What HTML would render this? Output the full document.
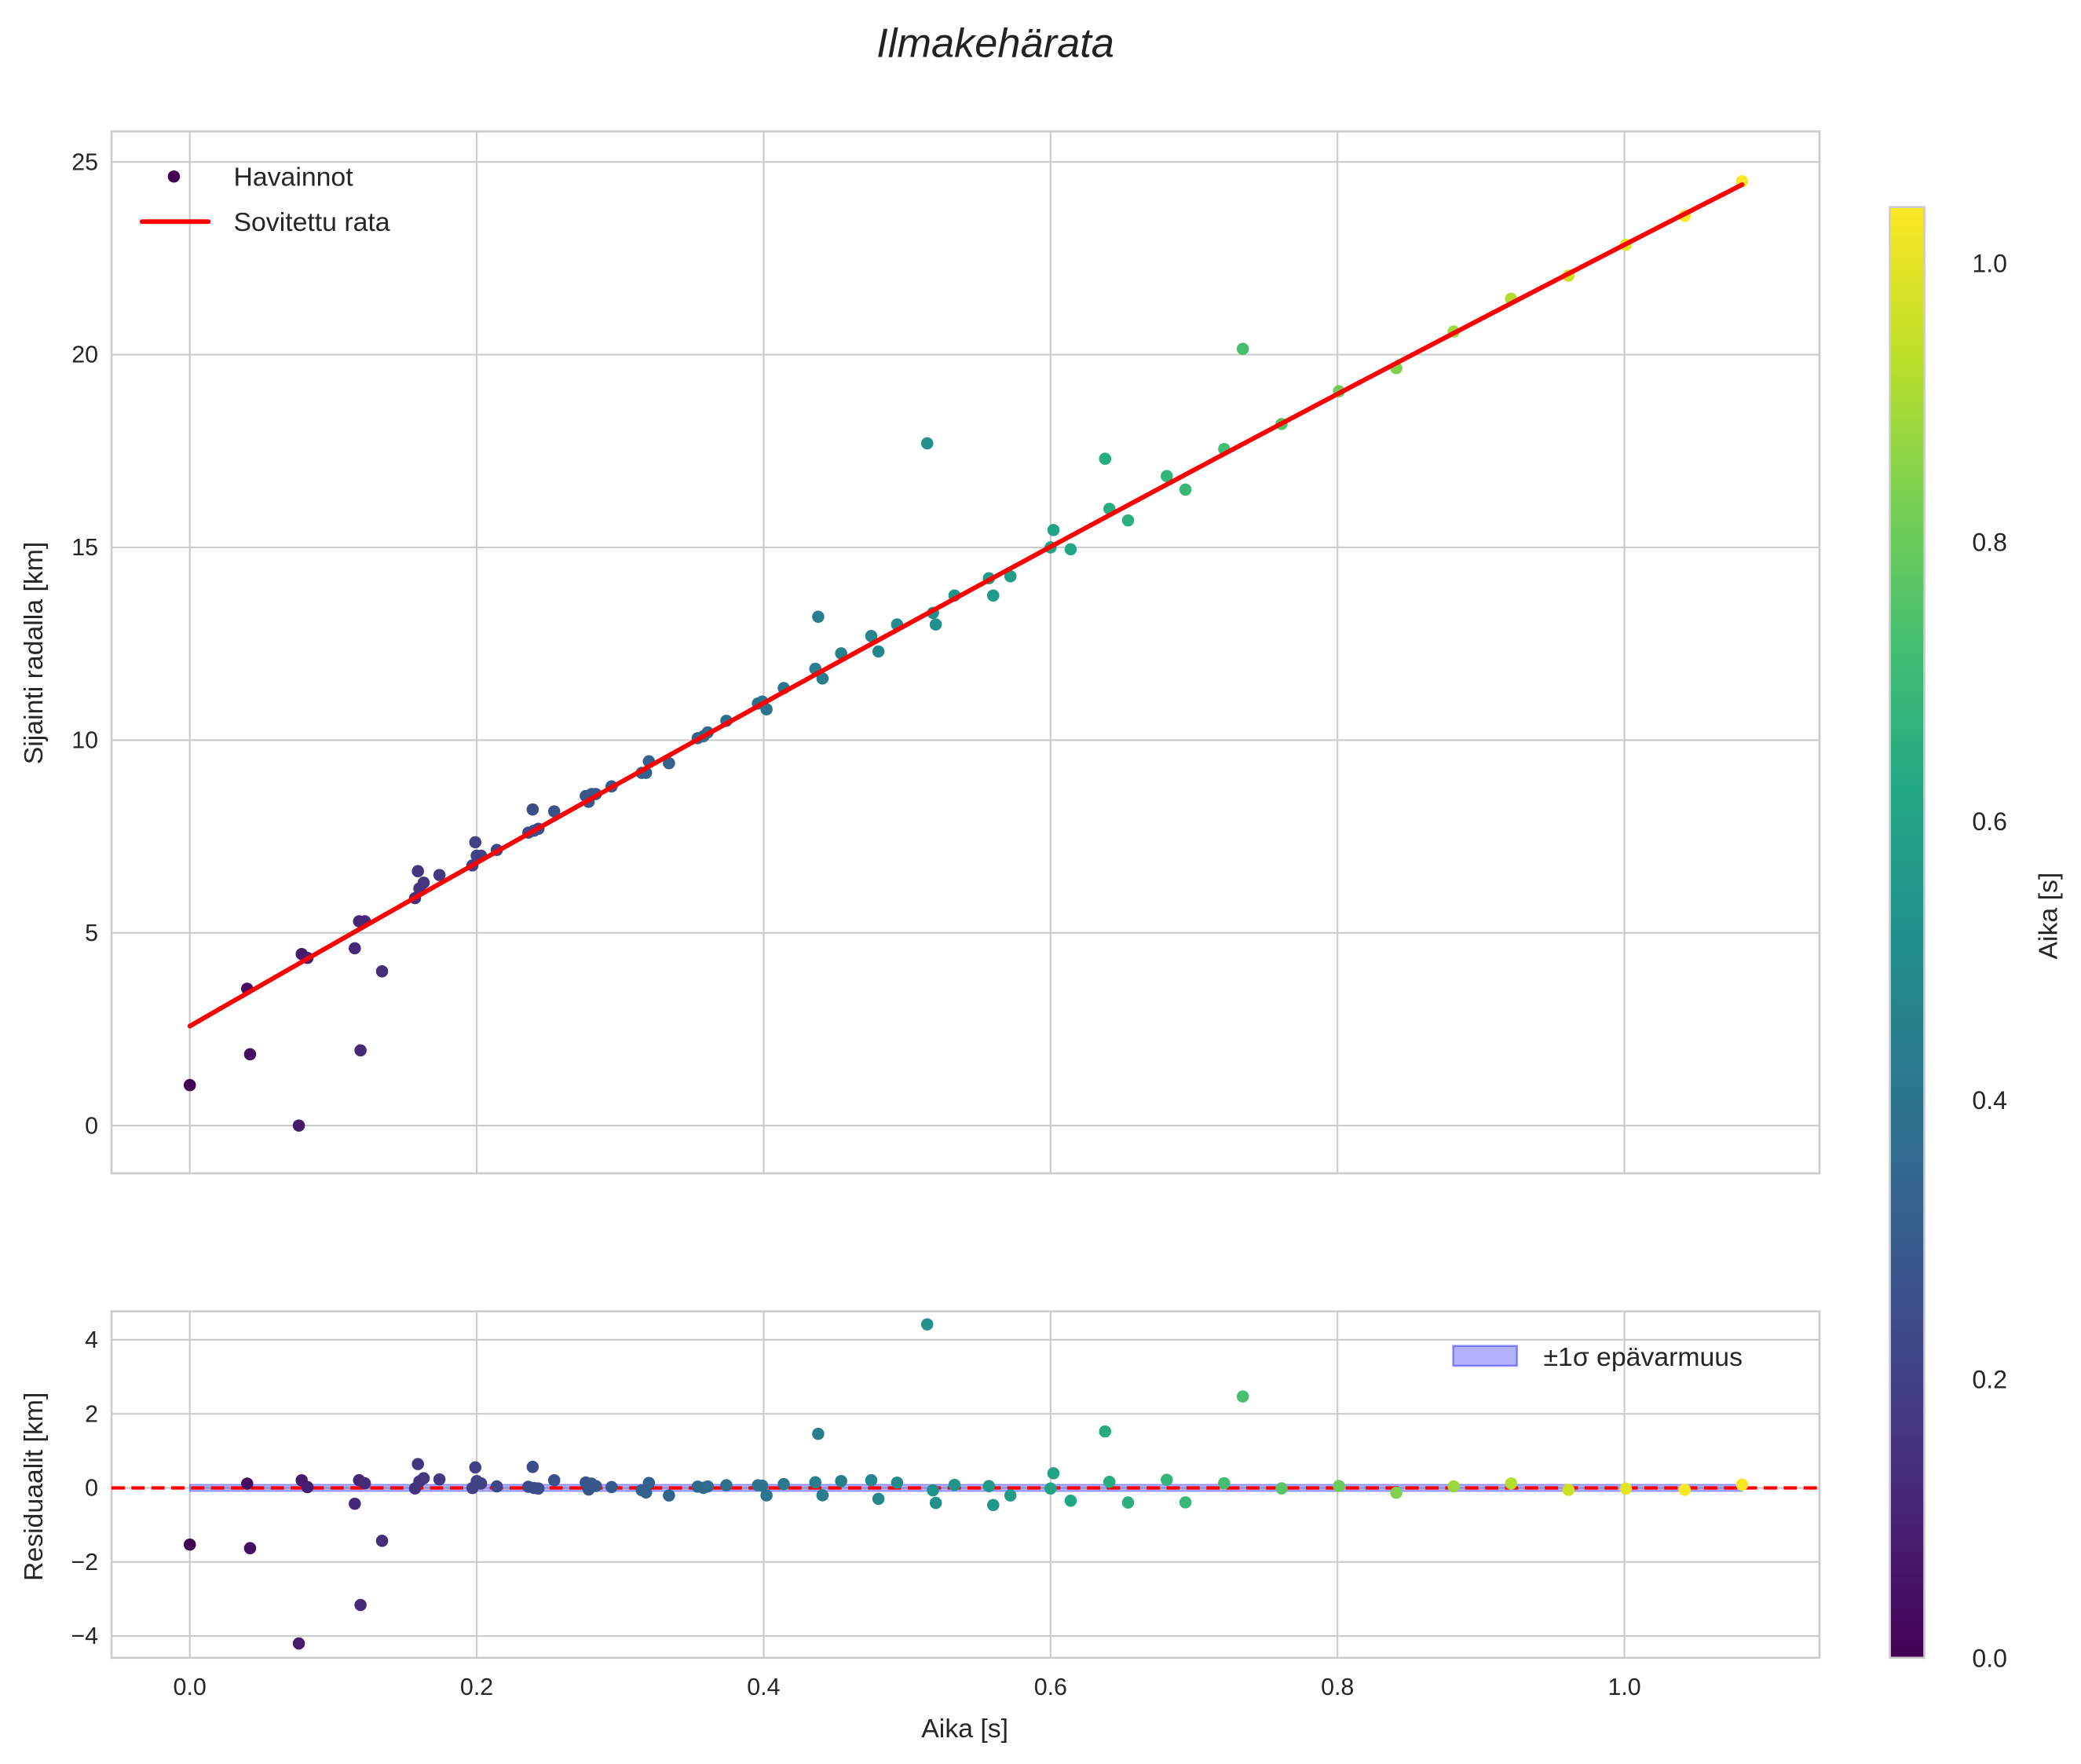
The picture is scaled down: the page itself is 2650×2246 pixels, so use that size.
<!DOCTYPE html>
<html><head><meta charset="utf-8"><style>
html,body{margin:0;padding:0;background:#fff;}
svg{display:block;font-family:"Liberation Sans",sans-serif;}
</style></head><body>
<svg id="fig" width="2650" height="2246" viewBox="0 0 1568 1329" xmlns="http://www.w3.org/2000/svg">
<defs>
<linearGradient id="vir" x1="0" y1="1" x2="0" y2="0">
<stop offset="0" stop-color="#440154"/><stop offset="0.1" stop-color="#482475"/><stop offset="0.2" stop-color="#414487"/><stop offset="0.3" stop-color="#355f8d"/><stop offset="0.4" stop-color="#2a788e"/><stop offset="0.5" stop-color="#21918c"/><stop offset="0.6" stop-color="#22a884"/><stop offset="0.7" stop-color="#44bf70"/><stop offset="0.8" stop-color="#7ad151"/><stop offset="0.9" stop-color="#bddf26"/><stop offset="1" stop-color="#fde725"/>
</linearGradient>
</defs>
<text x="750" y="43" font-size="31" font-style="italic" text-anchor="middle" fill="#222">Ilmakehärata</text>
<g id="topPlot"></g>
<g id="botPlot"></g>
<g id="cbar"></g>
</svg>
<script>
const times=[0.0,0.04,0.042,0.076,0.078,0.082,0.115,0.118,0.119,0.122,0.134,0.157,0.159,0.16,0.163,0.174,0.197,0.199,0.2,0.203,0.214,0.236,0.239,0.24,0.243,0.254,0.276,0.278,0.28,0.283,0.294,0.315,0.318,0.32,0.334,0.354,0.358,0.361,0.374,0.396,0.399,0.402,0.414,0.436,0.438,0.441,0.454,0.475,0.48,0.493,0.514,0.518,0.52,0.533,0.557,0.56,0.572,0.6,0.602,0.614,0.638,0.641,0.654,0.681,0.694,0.721,0.734,0.761,0.801,0.841,0.881,0.921,0.961,1.001,1.042,1.082];
const positions=[1.05,3.55,1.85,0.0,4.45,4.35,4.6,5.3,1.95,5.3,4.0,5.9,6.6,6.15,6.3,6.5,6.75,7.35,7.0,7.0,7.15,7.6,8.2,7.65,7.7,8.15,8.55,8.4,8.6,8.6,8.8,9.15,9.15,9.45,9.4,10.05,10.1,10.2,10.5,10.95,11.0,10.8,11.35,11.85,13.2,11.6,12.25,12.7,12.3,13.0,17.7,13.3,13.0,13.75,14.2,13.75,14.25,15.0,15.45,14.95,17.3,16.0,15.7,16.85,16.5,17.55,20.15,18.2,19.05,19.65,20.6,21.45,22.05,22.85,23.6,24.5];
const fitC0=2.58, fitC1=21.41, fitC2=-1.14, sigma=0.09;
const xTicks=[0.0,0.2,0.4,0.6,0.8,1.0];
const yTicksTop=[0,5,10,15,20,25];
const yTicksBot=[-4,-2,0,2,4];
const cbTicks=[0.0,0.2,0.4,0.6,0.8,1.0];
const NS="http://www.w3.org/2000/svg";
function mk(p,t,a){const e=document.createElementNS(NS,t);for(const k in a)e.setAttribute(k,a[k]);p.appendChild(e);return e;}
const fit=t=>fitC0+fitC1*t+fitC2*t*t;
const X=t=>143+t*1081;
const YT=v=>848-v*29.04;
const YB=v=>1121-v*27.9;
const vir=["#440154","#482475","#414487","#355f8d","#2a788e","#21918c","#22a884","#44bf70","#7ad151","#bddf26","#fde725"];
function hx(c){return [1,3,5].map(i=>parseInt(c.substr(i,2),16));}
function cmap(t){t=Math.max(0,Math.min(1,t/1.04));const f=t*10,i=Math.min(9,Math.floor(f)),r=f-i;const a=hx(vir[i]),b=hx(vir[i+1]);return "rgb("+a.map((v,k)=>Math.round(v+(b[k]-v)*r)).join(",")+")";}
const gTop=document.getElementById('topPlot'),gBot=document.getElementById('botPlot'),gCb=document.getElementById('cbar');
const G="#cccccc";
xTicks.forEach(t=>{const l=mk(gTop,'line',{x1:X(t),x2:X(t),y1:99,y2:884,stroke:G,'stroke-width':1.3});

});
yTicksTop.forEach(v=>{const l=mk(gTop,'line',{x1:84,x2:1371,y1:YT(v),y2:YT(v),stroke:G,'stroke-width':1.3});


const tx=mk(gTop,'text',{x:74,y:YT(v)+6,'font-size':18,'text-anchor':'end',fill:'#262626'});tx.textContent=v;

});
const fr=mk(gTop,'rect',{x:84,y:99,width:1287,height:785,fill:'none',stroke:G,'stroke-width':1.6});


const yl=mk(gTop,'text',{x:0,y:0,'font-size':20,'text-anchor':'middle',fill:'#262626',transform:'translate(32,492) rotate(-90)'});yl.textContent='Sijainti radalla [km]';


times.forEach((t,i)=>{const c=mk(gTop,'circle',{cx:X(t),cy:YT(positions[i]),r:4.6,fill:cmap(t)});

});
const tmax=times[times.length-1];
let d='';for(let k=0;k<=40;k++){const t=tmax*k/40;d+=(k?'L':'M')+X(t).toFixed(2)+','+YT(fit(t)).toFixed(2);}
const fl=mk(gTop,'path',{d:d,fill:'none',stroke:'#ff0000','stroke-width':3.5,'stroke-linecap':'round'});


const lg=mk(gTop,'g',{});


const lm=mk(lg,'circle',{cx:131,cy:133,r:4.6,fill:'#440154'});


const lt1=mk(lg,'text',{x:176,y:140,'font-size':20,fill:'#262626'});lt1.textContent='Havainnot';


const ll=mk(lg,'line',{x1:107,x2:157,y1:167,y2:167,stroke:'#ff0000','stroke-width':3.5,'stroke-linecap':'round'});


const lt2=mk(lg,'text',{x:176,y:174,'font-size':20,fill:'#262626'});lt2.textContent='Sovitettu rata';


xTicks.forEach(t=>{const l=mk(gBot,'line',{x1:X(t),x2:X(t),y1:988,y2:1249,stroke:G,'stroke-width':1.3});


const tx=mk(gBot,'text',{x:X(t),y:1277,'font-size':18,'text-anchor':'middle',fill:'#262626'});tx.textContent=t.toFixed(1);

});
yTicksBot.forEach(v=>{const l=mk(gBot,'line',{x1:84,x2:1371,y1:YB(v),y2:YB(v),stroke:G,'stroke-width':1.3});


const tx=mk(gBot,'text',{x:74,y:YB(v)+6,'font-size':18,'text-anchor':'end',fill:'#262626'});tx.textContent=(v<0?'\u2212':'')+Math.abs(v);

});
const fr2=mk(gBot,'rect',{x:84,y:988,width:1287,height:261,fill:'none',stroke:G,'stroke-width':1.6});


const band=mk(gBot,'rect',{x:X(0),y:YB(sigma),width:X(tmax)-X(0),height:YB(-sigma)-YB(sigma),fill:'rgba(0,0,255,0.3)',stroke:'rgba(0,0,255,0.3)','stroke-width':1});


const zl=mk(gBot,'line',{x1:84,x2:1371,y1:YB(0),y2:YB(0),stroke:'#ff0000','stroke-width':2.5,'stroke-dasharray':'10,5'});


times.forEach((t,i)=>{const r=positions[i]-fit(t);const c=mk(gBot,'circle',{cx:X(t),cy:YB(r),r:4.6,fill:cmap(t)});

});
const yl2=mk(gBot,'text',{x:0,y:0,'font-size':20,'text-anchor':'middle',fill:'#262626',transform:'translate(32,1120) rotate(-90)'});yl2.textContent='Residuaalit [km]';


const xl=mk(gBot,'text',{x:727,y:1309,'font-size':20,'text-anchor':'middle',fill:'#262626'});xl.textContent='Aika [s]';


const bp=mk(gBot,'rect',{x:1095,y:1014,width:48,height:15,fill:'rgba(0,0,255,0.3)',stroke:'rgba(0,0,255,0.4)','stroke-width':1.5});


const bt=mk(gBot,'text',{x:1163,y:1029,'font-size':20,fill:'#262626'});bt.textContent='±1σ epävarmuus';


const CB=v=>1249-v*1051;
const cr=mk(gCb,'rect',{x:1424,y:156,width:26,height:1093,fill:'url(#vir)',stroke:G,'stroke-width':1.6});


cbTicks.forEach(v=>{const tx=mk(gCb,'text',{x:1486,y:CB(v)+7,'font-size':19,fill:'#262626'});tx.textContent=v.toFixed(1);

});
const cl=mk(gCb,'text',{x:0,y:0,'font-size':20,'text-anchor':'middle',fill:'#262626',transform:'translate(1550,690) rotate(-90)'});cl.textContent='Aika [s]';


</script>
</body></html>
